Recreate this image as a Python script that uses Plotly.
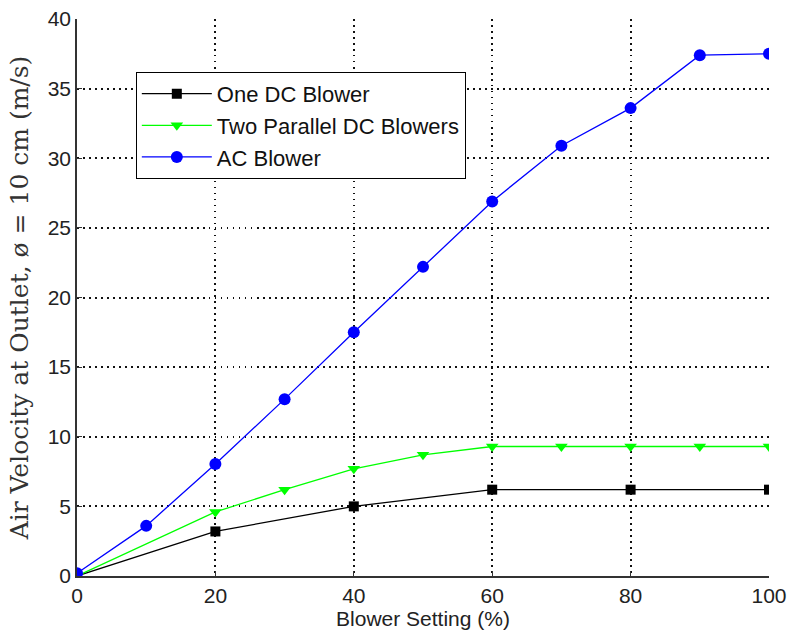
import plotly.graph_objects as go

# Blower setting (%) and measured outlet air velocity (m/s)
setting_one_dc = [0, 20, 40, 60, 80, 100]
velocity_one_dc = [0.0, 3.2, 5.0, 6.2, 6.2, 6.2]

setting_two_dc = [0, 20, 30, 40, 50, 60, 70, 80, 90, 100]
velocity_two_dc = [0.0, 4.6, 6.2, 7.7, 8.7, 9.3, 9.3, 9.3, 9.3, 9.3]

setting_ac = [0, 10, 20, 30, 40, 50, 60, 70, 80, 90, 100]
velocity_ac = [0.2, 3.6, 8.05, 12.7, 17.5, 22.2, 26.9, 30.9, 33.6, 37.4, 37.5]

x_ticks = [0, 20, 40, 60, 80, 100]
y_ticks = [0, 5, 10, 15, 20, 25, 30, 35, 40]

fig = go.Figure()
fig.add_trace(go.Scatter(
    x=setting_one_dc, y=velocity_one_dc, mode="lines+markers", name="One DC Blower",
    line=dict(color="black", width=1.3),
    marker=dict(symbol="square", size=10, color="black"),
))
fig.add_trace(go.Scatter(
    x=setting_two_dc, y=velocity_two_dc, mode="lines+markers", name="Two Parallel DC Blowers",
    line=dict(color="#00ff00", width=1.3),
    marker=dict(symbol="triangle-down", size=11, color="#00ff00"),
))
fig.add_trace(go.Scatter(
    x=setting_ac, y=velocity_ac, mode="lines+markers", name="AC Blower",
    line=dict(color="#0000ff", width=1.3),
    marker=dict(symbol="circle", size=12, color="#0000ff"),
))

sans = "Liberation Sans, Arial, sans-serif"
tick_font = dict(family=sans, size=21, color="#222222")

grid_style = dict(showgrid=True, gridcolor="#111111", griddash="1.5px,4.5px", gridwidth=1.5)

fig.update_layout(
    width=789, height=637,
    margin=dict(l=77, r=20, t=19, b=61, autoexpand=False),
    paper_bgcolor="white", plot_bgcolor="white",
    showlegend=True,
    legend=dict(
        x=0.085, y=0.905, xanchor="left", yanchor="top",
        bgcolor="white", bordercolor="black", borderwidth=1,
        font=dict(family=sans, size=22, color="#111111"),
        itemwidth=70, tracegroupgap=0,
    ),
    xaxis=dict(
        range=[0, 100], tickvals=x_ticks, ticktext=[str(v) for v in x_ticks],
        **grid_style, automargin=False,
        showline=True, linecolor="#333333", linewidth=1.5,
        ticks="inside", ticklen=5, tickcolor="#333333",
        tickfont=tick_font, zeroline=False,
        title=dict(text="Blower Setting (%)", font=tick_font, standoff=4),
    ),
    yaxis=dict(
        range=[0, 40], tickvals=y_ticks, ticktext=[str(v) for v in y_ticks],
        **grid_style, automargin=False,
        showline=True, linecolor="#333333", linewidth=1.5,
        ticks="inside", ticklen=5, tickcolor="#333333",
        tickfont=tick_font, zeroline=False,
        title=dict(
            text="Air Velocity at Outlet, ø = 10 cm (m/s)",
            font=dict(family="DejaVu Serif, Liberation Serif, serif", size=25, color="#333333"),
            standoff=12,
        ),
    ),
)

fig.write_html("out.html")
